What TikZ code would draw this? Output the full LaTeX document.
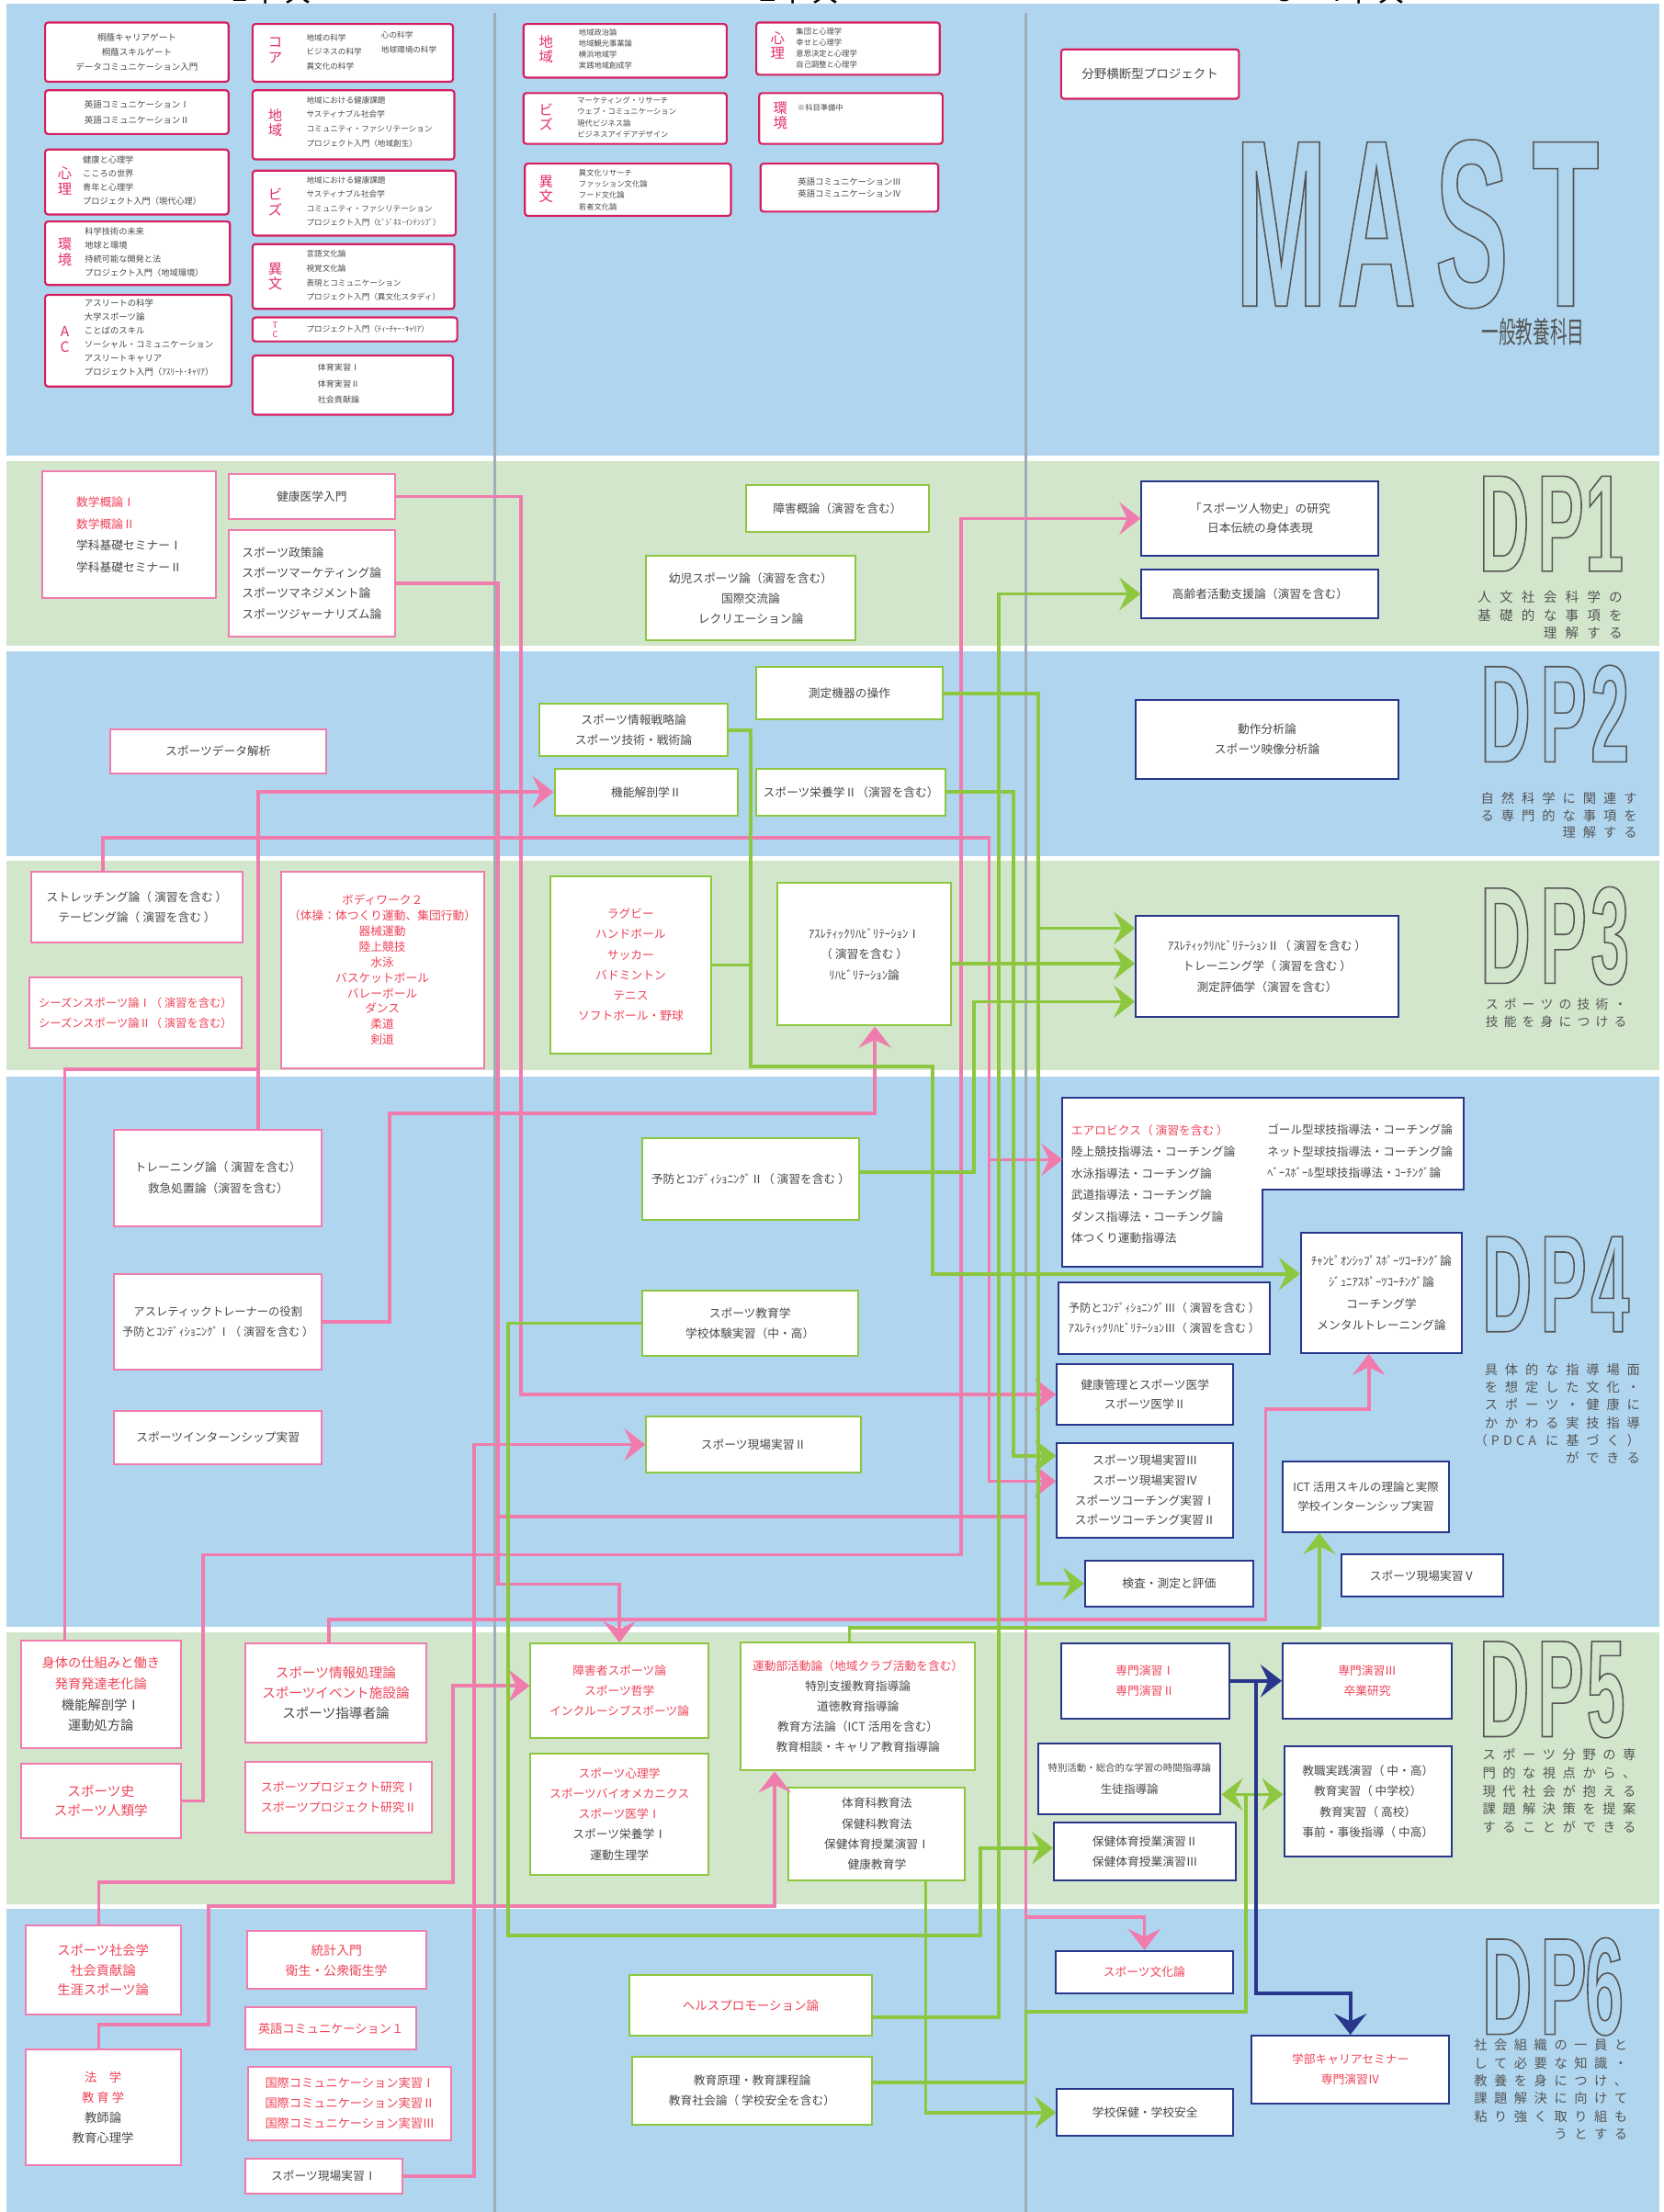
\documentclass[tikz,border=0pt]{standalone}
\usepackage{fontspec}
\usepackage{graphicx}
\setmainfont{Noto Sans CJK JP}
\newfontfamily\mastfont[FakeStretch=0.46]{Liberation Sans}
\newfontfamily\dpletfont[FakeStretch=0.5]{Liberation Sans}
\usetikzlibrary{arrows.meta}
\definecolor{bandblue}{RGB}{176,214,239}
\definecolor{bandgreen}{RGB}{210,230,204}
\definecolor{crim}{RGB}{214,30,95}
\definecolor{labred}{RGB}{226,45,110}
\definecolor{pinkc}{RGB}{240,124,174}
\definecolor{greenc}{RGB}{141,198,63}
\definecolor{navyc}{RGB}{40,55,140}
\definecolor{txtgray}{RGB}{72,72,72}
\definecolor{txtred}{RGB}{240,68,88}
\definecolor{divgray}{RGB}{160,172,184}
\definecolor{outgray}{RGB}{85,85,85}
\newcommand\RR[1]{\textcolor{txtred}{#1}}
\newcommand\fsz[2]{\fontsize{#1}{#2}\selectfont}
\newcommand\bx[7]{\node[#2,minimum width={(#5-#3)*1pt},minimum height={(#6-#4)*1pt}] (#1) at ({(#3+#5)/2},{(#4+#6)/2}) {#7};}
\newcommand\tx[5]{\node[anchor=west,inner sep=0pt,align=left,text=txtgray,font=#4] (#1) at (#2,#3) {#5};}
\newcommand\lab[5]{\node[inner sep=0pt,align=center,text=labred,font=#4] (#1) at (#2,#3) {#5};}
\newcommand\outl[1]{\special{pdf:literal direct 1 Tr 1 w}#1\special{pdf:literal direct 0 Tr}}
\newcommand\olet[5]{\node[anchor=base,inner sep=0pt,text depth=0pt,text=outgray] (#1) at (#2,#3) {#4\outl{#5}};}
\newlength\cpitch
\def\spx#1{\ifx#1\relax\else\makebox[\cpitch][c]{#1}\expandafter\spx\fi}
\newcommand\spreadtxt[1]{\spx#1\relax}
\begin{document}
\begin{tikzpicture}[x=1pt,y=-1pt,
 tb/.style={draw=crim,line width=1.4pt,fill=white,rounded corners=2pt,inner sep=0pt,text=txtgray,align=center},
 pk/.style={draw=pinkc,line width=1.3pt,fill=white,inner sep=0pt,text=txtgray,align=center,font=\fsz{8.3}{14.5}},
 gr/.style={draw=greenc,line width=1.3pt,fill=white,inner sep=0pt,text=txtgray,align=center,font=\fsz{8.3}{14.5}},
 nv/.style={draw=navyc,line width=1.3pt,fill=white,inner sep=0pt,text=txtgray,align=center,font=\fsz{8.3}{14.5}},
 pl/.style={draw=pinkc,line width=2.4pt},
 gl/.style={draw=greenc,line width=2.4pt},
 nl/.style={draw=navyc,line width=2.4pt},
 arr/.style={-{Stealth[length=15pt,width=23pt,inset=5.5pt]}},
 dpt/.style={anchor=east,inner sep=0pt,align=right,text=outgray}
]
\useasboundingbox (0,0) rectangle (1179,1568);
\clip (0,0) rectangle (1179,1568);
\fill[white] (0,0) rectangle (1179,1568);
% bands
\fill[bandblue] (4.5,2.6) rectangle (1176,323);
\fill[bandgreen] (4.5,327) rectangle (1176,457.6);
\fill[bandblue] (4.5,461.5) rectangle (1176,607);
\fill[bandgreen] (4.5,610) rectangle (1176,758.6);
\fill[bandblue] (4.5,763) rectangle (1176,1153);
\fill[bandgreen] (4.5,1157) rectangle (1176,1349.6);
\fill[bandblue] (4.5,1353) rectangle (1176,1568);
\draw[divgray,line width=1.6pt] (350.6,9) -- (350.6,1568);
\draw[divgray,line width=1.6pt] (727,9) -- (727,1568);
% headers (cut off at top)
\node[anchor=base,inner sep=0pt,font=\fsz{22}{22}] (hd1) at (192,0.8) {1年次};
\node[anchor=base,inner sep=0pt,font=\fsz{22}{22}] (hd2) at (566,0.8) {2年次};
\node[anchor=base,inner sep=0pt,font=\fsz{22}{22}] (hd3) at (950,0.8) {3・4年次};

% ===== top band =====
\bx{tA}{tb,font=\fsz{6.2}{10.7}}{32}{16}{162}{58}{桐蔭キャリアゲート\\桐蔭スキルゲート\\データコミュニケーション入門}
\bx{tB}{tb,font=\fsz{6.2}{11}}{32}{64}{162}{95}{英語コミュニケーションⅠ\\英語コミュニケーションⅡ}
\bx{tPsy}{tb}{32}{106}{162}{152}{}
\lab{tPsyL}{46}{128}{\fsz{10}{11}}{心\\理}
\tx{tPsyT}{58.5}{128}{\fsz{6}{9.8}}{健康と心理学\\こころの世界\\青年と心理学\\プロジェクト入門（現代心理）}
\bx{tEnv}{tb}{32}{157}{163}{202}{}
\lab{tEnvL}{46}{178.5}{\fsz{10}{11}}{環\\境}
\tx{tEnvT}{60}{178.5}{\fsz{6}{9.8}}{科学技術の未来\\地球と環境\\持続可能な開発と法\\プロジェクト入門（地域環境）}
\bx{tAC}{tb}{32}{209}{164}{274}{}
\lab{tACL}{46}{240.5}{\fsz{10}{11}}{A\\C}
\tx{tACT}{59.7}{239.5}{\fsz{6.1}{9.8}}{アスリートの科学\\大学スポーツ論\\ことばのスキル\\ソーシャル・コミュニケーション\\アスリートキャリア\\プロジェクト入門（ｱｽﾘｰﾄ･ｷｬﾘｱ）}
\bx{tCore}{tb}{179}{17}{321}{58}{}
\lab{tCoreL}{195}{35.7}{\fsz{10}{11}}{コ\\ア}
\tx{tCoreT1}{217}{36.9}{\fsz{5.6}{10.2}}{地域の科学\\ビジネスの科学\\異文化の科学}
\tx{tCoreT2}{270}{30}{\fsz{5.6}{10.2}}{心の科学\\地球環境の科学}
\bx{tReg}{tb}{179}{64}{322}{113}{}
\lab{tRegL}{195}{87}{\fsz{10}{11}}{地\\域}
\tx{tRegT}{217}{86.3}{\fsz{5.6}{10.2}}{地域における健康課題\\サスティナブル社会学\\コミュニティ・ファシリテーション\\プロジェクト入門（地域創生）}
\bx{tBiz}{tb}{179}{121}{323}{167}{}
\lab{tBizL}{195}{143}{\fsz{10}{11}}{ビ\\ズ}
\tx{tBizT}{217}{142.8}{\fsz{5.6}{10.2}}{地域における健康課題\\サスティナブル社会学\\コミュニティ・ファシリテーション\\プロジェクト入門（ﾋﾞｼﾞﾈｽ･ｲﾝﾃﾝｼﾌﾞ）}
\bx{tCul}{tb}{179}{173}{322}{219}{}
\lab{tCulL}{195}{196}{\fsz{10}{11}}{異\\文}
\tx{tCulT}{217}{195.5}{\fsz{5.6}{10.2}}{言語文化論\\視覚文化論\\表現とコミュニケーション\\プロジェクト入門（異文化スタディ）}
\bx{tTC}{tb}{179}{225}{324}{242}{}
\lab{tTCL}{195}{233.8}{\fsz{6}{6.5}}{T\\C}
\tx{tTCT}{217}{233.5}{\fsz{5.6}{10}}{プロジェクト入門（ﾃｨｰﾁｬｰ･ｷｬﾘｱ）}
\bx{tPE}{tb}{179}{252}{321}{294}{}
\tx{tPET}{225}{272}{\fsz{5.9}{11.4}}{体育実習Ⅰ\\体育実習Ⅱ\\社会貢献論}
\bx{tReg2}{tb}{371}{17}{515}{55}{}
\lab{tReg2L}{387}{35}{\fsz{10}{10.5}}{地\\域}
\tx{tReg2T}{410}{34.8}{\fsz{5.4}{8}}{地域政治論\\地域観光事業論\\横浜地域学\\実践地域創成学}
\bx{tBiz2}{tb}{371}{66}{515}{102}{}
\lab{tBiz2L}{387}{83}{\fsz{10}{10.5}}{ビ\\ズ}
\tx{tBiz2T}{409}{83.2}{\fsz{5.4}{8}}{マーケティング・リサーチ\\ウェブ・コミュニケーション\\現代ビジネス論\\ビジネスアイデアデザイン}
\bx{tCul2}{tb}{372}{116}{518}{153}{}
\lab{tCul2L}{387}{134}{\fsz{10}{10.5}}{異\\文}
\tx{tCul2T}{410}{134.6}{\fsz{5.4}{8}}{異文化リサーチ\\ファッション文化論\\フード文化論\\若者文化論}
\bx{tPsy2}{tb}{536}{16}{666}{53}{}
\lab{tPsy2L}{551}{32}{\fsz{10}{10.5}}{心\\理}
\tx{tPsy2T}{564}{34}{\fsz{5.4}{7.7}}{集団と心理学\\幸せと心理学\\意思決定と心理学\\自己調整と心理学}
\bx{tEnv2}{tb}{538}{66}{668}{102}{}
\lab{tEnv2L}{553}{82}{\fsz{10}{10.5}}{環\\境}
\tx{tEnv2T}{565}{76.4}{\fsz{5.4}{8}}{※科目準備中}
\bx{tEng2}{tb,font=\fsz{6.1}{8.5}}{539}{116}{665}{150}{英語コミュニケーションⅢ\\英語コミュニケーションⅣ}
\bx{tProj}{tb,font=\fsz{8.8}{10}}{752}{35}{878}{70}{分野横断型プロジェクト}
% MAST
\olet{mast1}{908}{217}{\mastfont\bfseries\fsz{169}{169}}{M}
\olet{mast2}{975.5}{217}{\mastfont\bfseries\fsz{169}{169}}{A}
\olet{mast3}{1043}{217}{\mastfont\bfseries\fsz{169}{169}}{S}
\olet{mast4}{1109.5}{217}{\mastfont\bfseries\fsz{169}{169}}{T}
\node[inner sep=0pt,text=outgray] (mastsub) at (1086.5,235) {\scalebox{0.58}[1]{\fsz{21}{21}一般教養科目}};

% ===== DP labels =====
\olet{dp1a}{1066}{405}{\dpletfont\bfseries\fsz{98}{98}}{D}
\olet{dp1b}{1106}{405}{\dpletfont\bfseries\fsz{98}{98}}{P}
\olet{dp1c}{1137}{405}{\dpletfont\bfseries\fsz{98}{98}}{1}
\olet{dp2a}{1067}{540}{\dpletfont\bfseries\fsz{98}{98}}{D}
\olet{dp2b}{1108}{540}{\dpletfont\bfseries\fsz{98}{98}}{P}
\olet{dp2c}{1141}{540}{\dpletfont\bfseries\fsz{98}{98}}{2}
\olet{dp3a}{1067}{697}{\dpletfont\bfseries\fsz{98}{98}}{D}
\olet{dp3b}{1108}{697}{\dpletfont\bfseries\fsz{98}{98}}{P}
\olet{dp3c}{1141}{697}{\dpletfont\bfseries\fsz{98}{98}}{3}
\olet{dp4a}{1068}{944}{\dpletfont\bfseries\fsz{98}{98}}{D}
\olet{dp4b}{1108}{944}{\dpletfont\bfseries\fsz{98}{98}}{P}
\olet{dp4c}{1141}{944}{\dpletfont\bfseries\fsz{98}{98}}{4}
\olet{dp5a}{1066}{1231}{\dpletfont\bfseries\fsz{98}{98}}{D}
\olet{dp5b}{1106}{1231}{\dpletfont\bfseries\fsz{98}{98}}{P}
\olet{dp5c}{1138}{1231}{\dpletfont\bfseries\fsz{98}{98}}{5}
\olet{dp6a}{1068}{1442}{\dpletfont\bfseries\fsz{98}{98}}{D}
\olet{dp6b}{1108}{1442}{\dpletfont\bfseries\fsz{98}{98}}{P}
\olet{dp6c}{1137}{1442}{\dpletfont\bfseries\fsz{98}{98}}{6}
\setlength\cpitch{15.5pt}
\node[dpt,font=\fsz{9.5}{12.7}] (dp1t) at (1153,436) {\spreadtxt{人文社会科学の}\\\spreadtxt{基礎的な事項を}\\\spreadtxt{理解する}};
\setlength\cpitch{14.5pt}
\node[dpt,font=\fsz{9.3}{12.2}] (dp2t) at (1163,578) {\spreadtxt{自然科学に関連す}\\\spreadtxt{る専門的な事項を}\\\spreadtxt{理解する}};
\setlength\cpitch{13pt}
\node[dpt,font=\fsz{9}{12.2}] (dp3t) at (1155,718) {\spreadtxt{スポーツの技術・}\\\spreadtxt{技能を身につける}};
\setlength\cpitch{14.4pt}
\node[dpt,font=\fsz{9.3}{12.6}] (dp4t) at (1165,1002) {\spreadtxt{具体的な指導場面}\\\spreadtxt{を想定した文化・}\\\spreadtxt{スポーツ・健康に}\\\spreadtxt{かかわる実技指導}\\\makebox[44pt][s]{（\hfill P\hfill D\hfill C\hfill A}\hspace{4pt}\spreadtxt{に基づく）}\\\spreadtxt{ができる}};
\setlength\cpitch{14.2pt}
\node[dpt,font=\fsz{9.3}{12.8}] (dp5t) at (1162,1269.5) {\spreadtxt{スポーツ分野の専}\\\spreadtxt{門的な視点から、}\\\spreadtxt{現代社会が抱える}\\\spreadtxt{課題解決策を提案}\\\spreadtxt{することができる}};
\node[dpt,font=\fsz{9.3}{12.6}] (dp6t) at (1156,1481) {\spreadtxt{社会組織の一員と}\\\spreadtxt{して必要な知識・}\\\spreadtxt{教養を身につけ、}\\\spreadtxt{課題解決に向けて}\\\spreadtxt{粘り強く取り組も}\\\spreadtxt{うとする}};

% ===== DP1 =====
\bx{p1}{pk,align=left,font=\fsz{8.3}{15.3}}{30}{334}{153}{424}{\RR{数学概論Ⅰ}\\\RR{数学概論Ⅱ}\\学科基礎セミナーⅠ\\学科基礎セミナーⅡ}
\bx{p2}{pk}{162}{336}{280}{368}{健康医学入門}
\bx{p3}{pk,align=left}{162}{376}{280}{451}{スポーツ政策論\\スポーツマーケティング論\\スポーツマネジメント論\\スポーツジャーナリズム論}
\bx{g1}{gr}{529}{344}{658}{377}{障害概論（演習を含む）}
\bx{g2}{gr,font=\fsz{8.3}{14.3}}{458}{394}{606}{454}{幼児スポーツ論（演習を含む）\\国際交流論\\レクリエーション論}
\bx{b1}{nv,font=\fsz{8.3}{14}}{809}{341}{977}{394}{「スポーツ人物史」の研究\\日本伝統の身体表現}
\bx{b2}{nv}{809}{404}{977}{438}{高齢者活動支援論（演習を含む）}
% ===== DP2 =====
\bx{p4}{pk}{78}{517}{231}{548}{スポーツデータ解析}
\bx{g3}{gr}{382}{499}{516}{536}{スポーツ情報戦略論\\スポーツ技術・戦術論}
\bx{g4}{gr}{393}{545}{523}{578}{機能解剖学Ⅱ}
\bx{g5}{gr}{536}{473}{668}{510}{測定機器の操作}
\bx{g6}{gr}{536}{545}{670}{578}{スポーツ栄養学Ⅱ（演習を含む）}
\bx{b3}{nv}{805}{496}{991}{552}{動作分析論\\スポーツ映像分析論}
% ===== DP3 =====
\bx{p5}{pk}{22}{618}{172}{668}{ストレッチング論（ 演習を含む ）\\テーピング論（ 演習を含む ）}
\bx{p6}{pk,font=\fsz{8}{14.5}}{21}{693}{171}{743}{\RR{シーズンスポーツ論Ⅰ（ 演習を含む）}\\\RR{シーズンスポーツ論Ⅱ（ 演習を含む）}}
\bx{p7}{pk,text=txtred,font=\fsz{8.3}{11}}{199}{618}{343}{757}{ボディワーク２\\（体操：体つくり運動、集団行動）\\器械運動\\陸上競技\\水泳\\バスケットボール\\バレーボール\\ダンス\\柔道\\剣道}
\bx{g7}{gr,text=txtred}{390}{621}{504}{747}{ラグビー\\ハンドボール\\サッカー\\バドミントン\\テニス\\ソフトボール・野球}
\bx{g8}{gr}{551}{626}{674}{727}{ｱｽﾚﾃｨｯｸﾘﾊﾋﾞﾘﾃｰｼｮﾝⅠ\\（ 演習を含む ）\\ﾘﾊﾋﾞﾘﾃｰｼｮﾝ論}
\bx{b4}{nv}{805}{649}{991}{721}{ｱｽﾚﾃｨｯｸﾘﾊﾋﾞﾘﾃｰｼｮﾝⅡ（ 演習を含む ）\\トレーニング学（ 演習を含む ）\\測定評価学（演習を含む）}
% ===== DP4 =====
\bx{p8}{pk,font=\fsz{8.3}{15}}{81}{801}{228}{869}{トレーニング論（ 演習を含む）\\救急処置論（演習を含む）}
\bx{p9}{pk,font=\fsz{8}{14.5}}{81}{903}{228}{971}{アスレティックトレーナーの役割\\予防とｺﾝﾃﾞｨｼｮﾆﾝｸﾞⅠ（ 演習を含む ）}
\bx{p10}{pk}{81}{1000}{228}{1038}{スポーツインターンシップ実習}
\bx{g9}{gr}{455}{807}{609}{865}{予防とｺﾝﾃﾞｨｼｮﾆﾝｸﾞⅡ（ 演習を含む ）}
\bx{g10}{gr,font=\fsz{8.3}{14}}{455}{915}{608}{961}{スポーツ教育学\\学校体験実習（中・高）}
\bx{g11}{gr}{458}{1004}{610}{1044}{スポーツ現場実習Ⅱ}
\filldraw[draw=navyc,fill=white,line width=1.3pt] (753,778) -- (1037,778) -- (1037,843) -- (895,843) -- (895,898) -- (753,898) -- cycle;
\node[anchor=west,inner sep=0pt,align=left,text=txtgray,font=\fsz{8.3}{15.3}] (b5a) at (759,839.5) {\RR{エアロビクス（ 演習を含む ）}\\陸上競技指導法・コーチング論\\水泳指導法・コーチング論\\武道指導法・コーチング論\\ダンス指導法・コーチング論\\体つくり運動指導法};
\node[anchor=west,inner sep=0pt,align=left,text=txtgray,font=\fsz{8.2}{15.3}] (b5b) at (898,816.3) {ゴール型球技指導法・コーチング論\\ネット型球技指導法・コーチング論\\ﾍﾞｰｽﾎﾞｰﾙ型球技指導法・ｺｰﾁﾝｸﾞ論};
\coordinate (b5w) at (753,822);
\bx{b6}{nv,font=\fsz{8.3}{15.3}}{922}{874}{1036}{959}{ﾁｬﾝﾋﾟｵﾝｼｯﾌﾟｽﾎﾟｰﾂｺｰﾁﾝｸﾞ論\\ｼﾞｭﾆｱｽﾎﾟｰﾂｺｰﾁﾝｸﾞ論\\コーチング学\\メンタルトレーニング論}
\bx{b7}{nv,font=\fsz{8}{14.5}}{750}{909}{900}{960}{予防とｺﾝﾃﾞｨｼｮﾆﾝｸﾞⅢ（ 演習を含む ）\\ｱｽﾚﾃｨｯｸﾘﾊﾋﾞﾘﾃｰｼｮﾝⅢ（ 演習を含む ）}
\bx{b8}{nv,font=\fsz{8.3}{14.1}}{749}{967}{874}{1010}{健康管理とスポーツ医学\\スポーツ医学Ⅱ}
\bx{b9}{nv,font=\fsz{8.3}{14.1}}{749}{1023}{874}{1090}{スポーツ現場実習Ⅲ\\スポーツ現場実習Ⅳ\\スポーツコーチング実習Ⅰ\\スポーツコーチング実習Ⅱ}
\bx{b10}{nv}{769}{1106}{888}{1139}{検査・測定と評価}
\bx{b11}{nv,font=\fsz{8.1}{14}}{909}{1036}{1027}{1086}{ICT 活用スキルの理論と実際\\学校インターンシップ実習}
\bx{b12}{nv}{951}{1102}{1065}{1132}{スポーツ現場実習Ⅴ}
% ===== DP5 =====
\bx{p11}{pk,font=\fsz{9.3}{14.8}}{15}{1163}{128}{1239}{\RR{身体の仕組みと働き}\\\RR{発育発達老化論}\\機能解剖学Ⅰ\\運動処方論}
\bx{p12}{pk,text=txtred,font=\fsz{9.5}{13.2}}{15}{1250}{128}{1303}{スポーツ史\\スポーツ人類学}
\bx{p13}{pk,font=\fsz{9.5}{14.5}}{174}{1165}{302}{1235}{\RR{スポーツ情報処理論}\\\RR{スポーツイベント施設論}\\スポーツ指導者論}
\bx{p14}{pk,text=txtred,font=\fsz{8.5}{14.5}}{174}{1249}{306}{1299}{スポーツプロジェクト研究Ⅰ\\スポーツプロジェクト研究Ⅱ}
\bx{g12}{gr,text=txtred,font=\fsz{8.3}{14.4}}{376}{1165}{502}{1232}{障害者スポーツ論\\スポーツ哲学\\インクルーシブスポーツ論}
\bx{g13}{gr,font=\fsz{8.3}{14.4}}{376}{1243}{502}{1329}{\RR{スポーツ心理学}\\\RR{スポーツバイオメカニクス}\\\RR{スポーツ医学Ⅰ}\\スポーツ栄養学Ⅰ\\運動生理学}
\bx{g14}{gr,font=\fsz{8.3}{14.4}}{525}{1164}{691}{1255}{\RR{運動部活動論（地域クラブ活動を含む）}\\特別支援教育指導論\\道徳教育指導論\\教育方法論（ICT 活用を含む）\\教育相談・キャリア教育指導論}
\bx{g15}{gr}{559}{1267}{684}{1333}{体育科教育法\\保健科教育法\\保健体育授業演習Ⅰ\\健康教育学}
\bx{b13}{nv,text=txtred,font=\fsz{8.3}{14.3}}{752}{1165}{871}{1218}{専門演習Ⅰ\\専門演習Ⅱ}
\bx{b14}{nv,text=txtred,font=\fsz{8.3}{14.3}}{909}{1165}{1029}{1218}{専門演習Ⅲ\\卒業研究}
\bx{b15}{nv,font=\fsz{8.2}{16}}{736}{1236}{865}{1286}{{\fsz{6.8}{16}特別活動・総合的な学習の時間指導論}\\生徒指導論}
\bx{b16}{nv}{910}{1238}{1029}{1316}{教職実践演習（ 中・高）\\教育実習（ 中学校）\\教育実習（ 高校）\\事前・事後指導（ 中高）}
\bx{b17}{nv,font=\fsz{8.3}{14.3}}{747}{1292}{876}{1333}{保健体育授業演習Ⅱ\\保健体育授業演習Ⅲ}
% ===== DP6 =====
\bx{p15}{pk,text=txtred,font=\fsz{9.3}{14}}{18}{1365}{128}{1428}{スポーツ社会学\\社会貢献論\\生涯スポーツ論}
\bx{p16}{pk,font=\fsz{8.7}{14.3}}{18}{1453}{128}{1535}{\RR{法　学}\\\RR{教 育 学}\\教師論\\教育心理学}
\bx{p17}{pk,text=txtred,font=\fsz{9}{14.3}}{175}{1369}{302}{1410}{統計入門\\衛生・公衆衛生学}
\bx{p18}{pk,text=txtred,font=\fsz{8.6}{14}}{174}{1423}{295}{1453}{英語コミュニケーション１}
\bx{p19}{pk,text=txtred,font=\fsz{8.6}{14.3}}{176}{1465}{320}{1517}{国際コミュニケーション実習Ⅰ\\国際コミュニケーション実習Ⅱ\\国際コミュニケーション実習Ⅲ}
\bx{p20}{pk}{174}{1530}{285}{1555}{スポーツ現場実習Ⅰ}
\bx{g16}{gr,text=txtred,font=\fsz{8.8}{14}}{446}{1400}{618}{1443}{ヘルスプロモーション論}
\bx{g17}{gr,font=\fsz{8.3}{14.3}}{448}{1458}{618}{1506}{教育原理・教育課程論\\教育社会論（ 学校安全を含む）}
\bx{b18}{nv,text=txtred}{748}{1383}{874}{1413}{スポーツ文化論}
\bx{b19}{nv,text=txtred}{887}{1443}{1027}{1491}{学部キャリアセミナー\\専門演習Ⅳ}
\bx{b20}{nv}{749}{1481}{874}{1514}{学校保健・学校安全}

% ===== connectors: pink =====
\draw[pl,arr] (p2.east) -| (369,700) |- (b8.west);
\draw[pl,arr] (p3.east) -| (353,1123) -| (g12.north);
\coordinate (j2) at (353,1075);
\draw[pl,arr] (j2) -| (727,1359) -| (b18.north);
\draw[pl,arr] (p12.east) -| (144,1102) -| (681,700) |- (b1.west);
\draw[pl,arr] (p20.east) -| (336,1024) -- (g11.west);
\draw[pl,arr] (183,0 |- p8.north) |- (g4.west);
\coordinate (j5) at (183,758);
\draw[pl] (46,0 |- p11.north) |- (j5);
\draw[pl,arr] (73,0 |- p5.north) |- (701,594) |- (b9.west |- 0,1050);
\coordinate (j7) at (701,822);
\draw[pl,arr] (j7) -- (b5w);
\draw[pl,arr] (p9.east) -| (276,789) -| (620,0 |- g8.south);
\draw[pl,arr] (233,0 |- p13.north) |- (897,1148) |- (970,999) -- (970,0 |- b6.south);
\draw[pl,arr] (70,0 |- p15.north) |- (321,1334) |- (g12.west |- 0,1195);
\draw[pl,arr] (70,0 |- p16.north) |- (148,1435) |- (549,1351) -- (549,0 |- g14.south);
% ===== connectors: green =====
\draw[gl,arr] (g3.east) -| (532,756) -| (661,903) -- (b6.west |- 0,903);
\draw[gl] (g7.east) -- (532,0 |- g7.east);
\draw[gl,arr] (g5.east) -| (736,1000) |- (b10.west);
\coordinate (j8) at (736,658);
\draw[gl,arr] (j8) -- (b4.west |- 0,658);
\draw[gl,arr] (g6.east) -| (718,1000) |- (b9.west |- 0,1032);
\draw[gl,arr] (g8.east |- 0,683) -- (b4.west |- 0,683);
\draw[gl,arr] (g16.east |- 0,1430) -| (708,800) |- (b2.west);
\draw[gl,arr] (g9.east |- 0,831) -| (690,710) -- (b4.west |- 0,710);
\draw[gl,arr] (g10.west) -| (360,1372) -| (695,1310) -- (b17.west |- 0,1310);
\draw[gl,arr] (656,0 |- g15.south) |- (b20.west);
\coordinate (j9) at (883,1272);
\draw[gl] (g17.east |- 0,1476) -| (727,1426) -| (j9);
\draw[gl,{Stealth[length=15pt,width=23pt,inset=5.5pt]}-{Stealth[length=15pt,width=23pt,inset=5.5pt]}] (b15.east |- j9) -- (b16.west |- j9);
\draw[gl,arr] (602,0 |- g14.north) |- (935,1154) -- (935,0 |- b11.south);
% ===== connectors: navy =====
\draw[nl,arr] (b13.east) -- (b14.west);
\coordinate (j10) at (890,1191.5);
\draw[nl,arr] (j10) |- (957,1413) -- (b19.north);
\end{tikzpicture}
\end{document}
